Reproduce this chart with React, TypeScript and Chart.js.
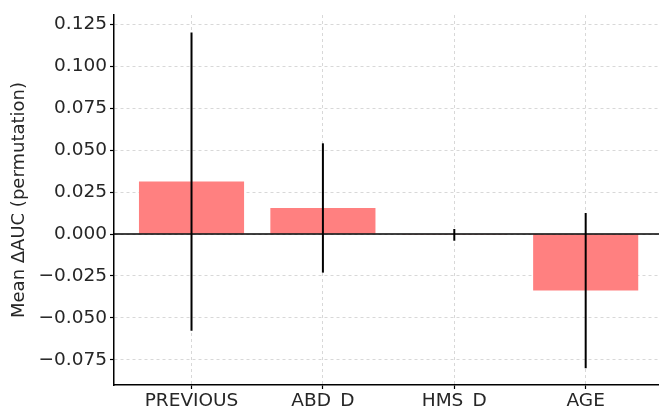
import React, { useEffect, useRef } from "react";
import { Chart, registerables } from "chart.js";

Chart.register(...registerables);

const categories = ["PREVIOUS", "ABD_D", "HMS_D", "AGE"];
const meanDelta = [0.0312, 0.0155, -0.0005, -0.0337];
const errDelta = [0.0888, 0.0385, 0.0035, 0.0462];
const yTicks = [-0.075, -0.05, -0.025, 0, 0.025, 0.05, 0.075, 0.1, 0.125];

const FONT = "'DejaVu Sans', sans-serif";

export default function App() {
  const ref = useRef<HTMLCanvasElement | null>(null);

  useEffect(() => {
    document.body.style.margin = "0";
    const canvas = ref.current;
    if (!canvas) return;

    const overlay = {
      id: "errOverlay",
      afterDatasetsDraw(chart: any) {
        const { ctx, chartArea, scales } = chart;
        const xs = scales.x;
        const ys = scales.y;
        ctx.save();
        ctx.strokeStyle = "#000";
        ctx.lineWidth = 1.3;
        const y0 = ys.getPixelForValue(0);
        ctx.beginPath();
        ctx.moveTo(chartArea.left, y0);
        ctx.lineTo(chartArea.right, y0);
        ctx.stroke();
        ctx.lineWidth = 2;
        meanDelta.forEach((m, i) => {
          const px = xs.getPixelForValue(i);
          ctx.beginPath();
          ctx.moveTo(px, ys.getPixelForValue(m + errDelta[i]));
          ctx.lineTo(px, ys.getPixelForValue(m - errDelta[i]));
          ctx.stroke();
        });
        ctx.restore();
      },
    };

    const gridOpts = {
      color: "#cfcfcf",
      lineWidth: 0.8,
      offset: false,
      drawTicks: true,
      tickLength: 4,
      tickColor: "#000",
      tickWidth: 1.2,
      tickBorderDash: [],
    };

    const chart = new Chart(canvas, {
      type: "bar",
      data: {
        datasets: [
          {
            data: meanDelta.map((v, i) => ({ x: i, y: v })),
            backgroundColor: "#ff8080",
            borderWidth: 0,
            barPercentage: 0.8,
            categoryPercentage: 1.0,
          },
        ],
      },
      options: {
        responsive: false,
        animation: false,
        layout: { padding: { top: 15, right: 0, left: 0, bottom: 0 } },
        plugins: {
          legend: { display: false },
          tooltip: { enabled: false },
        },
        scales: {
          x: {
            type: "linear",
            offset: false,
            min: -0.59,
            max: 3.558,
            afterBuildTicks: (s: any) => {
              s.ticks = categories.map((_, i) => ({ value: i }));
            },
            afterFit: (s: any) => {
              s.height = 23;
            },
            ticks: {
              callback: (v: any) => categories[Math.round(Number(v))] ?? "",
              font: { family: FONT, size: 18.5 },
              color: "#262626",
              padding: 1,
              maxRotation: 0,
              autoSkip: false,
            },
            grid: gridOpts,
            border: { display: true, color: "#000", width: 1.5, dash: [3, 3] },
          },
          y: {
            type: "linear",
            min: -0.0899,
            max: 0.1304,
            afterBuildTicks: (s: any) => {
              s.ticks = yTicks.map((v) => ({ value: v }));
            },
            afterFit: (s: any) => {
              s.width = 114;
            },
            ticks: {
              callback: (v: any) => Number(v).toFixed(3).replace("-", "\u2212"),
              font: { family: FONT, size: 18.5 },
              color: "#262626",
              padding: 3,
              autoSkip: false,
            },
            grid: gridOpts,
            border: { display: true, color: "#000", width: 1.5, dash: [3, 3] },
            title: {
              display: true,
              text: "Mean \u0394AUC (permutation)",
              font: { family: FONT, size: 18 },
              color: "#262626",
              padding: { top: 9, bottom: 0 },
            },
          },
        },
      },
      plugins: [overlay],
    } as any);

    return () => chart.destroy();
  }, []);

  return (
    <div style={{ width: 659, height: 408 }}>
      <canvas ref={ref} width={659} height={408} style={{ width: 659, height: 408 }} />
    </div>
  );
}
